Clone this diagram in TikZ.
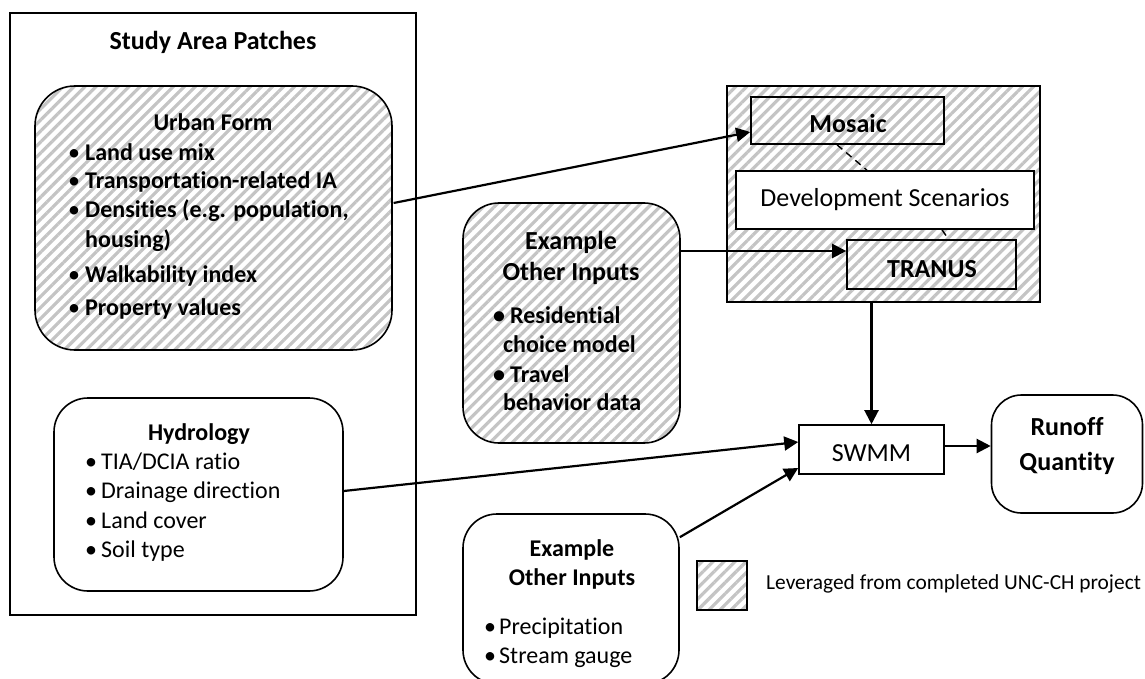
\documentclass[tikz,border=0pt]{standalone}
\usepackage{fontspec}
\setmainfont{Carlito}[Ligatures=NoCommon]
\usetikzlibrary{arrows.meta,patterns.meta}

\definecolor{hatchgray}{RGB}{196,196,196}
\newcommand\FsSmall{\fontsize{21.4}{25}\selectfont}
\newcommand\FsMid{\fontsize{24}{29}\selectfont}
\newcommand\FsBig{\fontsize{26}{31}\selectfont}

\tikzset{
  box/.style={draw, line width=1.6pt, rectangle, inner sep=0pt},
  hatch/.style={pattern={Lines[angle=45,distance=7.8pt,line width=3.2pt]}, pattern color=hatchgray},
  conn/.style={line width=2.2pt, -{Triangle[length=14pt,width=14pt]}},
  link/.style={line width=1.4pt, dash pattern=on 7pt off 5pt},
  t/.style={inner sep=0pt, anchor=base},
  tw/.style={inner sep=0pt, anchor=base west},
  dot/.style={tw, font=\FsMid\mdseries},
}

\begin{document}
\begin{tikzpicture}[x=1pt,y=-1pt]
\useasboundingbox (0,0) rectangle (1145,679);

% ---------- study area patches ----------
\node[box, minimum width=406pt, minimum height=602pt] (area) at (213,314) {};
\node[t, font=\FsBig\bfseries] (areaT) at (213,50) {Study Area Patches};

\node[box, hatch, rounded corners=40pt, minimum width=357pt, minimum height=264pt] (urban) at (213.5,218) {};
\node[t, font=\FsMid\bfseries] (urbanT) at (213,131) {Urban Form};
\begin{scope}[every node/.style={tw, font=\FsMid\bfseries}]
  \node[dot] (ub1) at (68,161) {•}; \node (ui1) at (85,161) {Land use mix};
  \node[dot] (ub2) at (68,189) {•}; \node (ui2) at (85,189) {Transportation-related IA};
  \node[dot] (ub3) at (68,218) {•}; \node (ui3) at (85,218) {Densities (e.g. population,};
  \node (ui3b) at (85,247) {housing)};
  \node[dot] (ub4) at (68,282) {•}; \node (ui4) at (85,282) {Walkability index};
  \node[dot] (ub5) at (68,315) {•}; \node (ui5) at (85,315) {Property values};
\end{scope}

\node[box, rounded corners=34pt, minimum width=289pt, minimum height=193pt] (hydro) at (198.5,494.5) {};
\node[t, font=\FsMid\bfseries] (hydroT) at (199,440) {Hydrology};
\begin{scope}[every node/.style={tw, font=\FsMid}]
  \node (hb1) at (85,469) {•}; \node (hi1) at (101,469) {TIA/DCIA ratio};
  \node (hb2) at (85,498) {•}; \node (hi2) at (101,498) {Drainage direction};
  \node (hb3) at (85,528) {•}; \node (hi3) at (101,528) {Land cover};
  \node (hb4) at (85,557) {•}; \node (hi4) at (101,557) {Soil type};
\end{scope}

% ---------- land use / transport inputs ----------
\node[box, hatch, rounded corners=36pt, minimum width=217pt, minimum height=240pt] (other) at (571.5,323) {};
\node[t, font=\FsBig\bfseries] (otherT1) at (571,249) {Example};
\node[t, font=\FsBig\bfseries] (otherT2) at (571,280) {Other Inputs};
\begin{scope}[every node/.style={tw, font=\FsMid\bfseries}]
  \node (ob1) at (493,323) {•}; \node (oi1) at (510,323) {Residential};
  \node (oi1b) at (503,352) {choice model};
  \node (ob2) at (493,382) {•}; \node (oi2) at (510,382) {Travel};
  \node (oi2b) at (503,410) {behavior data};
\end{scope}

% ---------- scenario models ----------
\node[box, hatch, minimum width=313pt, minimum height=216pt] (lev) at (883.5,194) {};
\node[box, minimum width=193pt, minimum height=47pt] (mosaic) at (847.5,120.5) {};
\node[t, font=\FsBig\bfseries] (mosaicT) at (848,133) {Mosaic};
\node[box, fill=white, minimum width=298pt, minimum height=58pt] (dev) at (885,200) {};
\node[t, font=\FsBig] (devT) at (885,207) {Development Scenarios};
\node[box, minimum width=169pt, minimum height=49pt] (tranus) at (931.5,264.5) {};
\node[t, font=\FsBig\bfseries] (tranusT) at (932,277) {TRANUS};

% ---------- hydrologic model ----------
\node[box, minimum width=145pt, minimum height=49pt] (swmm) at (871.5,449.5) {};
\node[t, font=\FsBig] (swmmT) at (871.5,461) {SWMM};
\node[box, rounded corners=30pt, minimum width=151pt, minimum height=118pt] (runoff) at (1067,454) {};
\node[t, font=\FsBig\bfseries] (runoffT1) at (1067,435) {Runoff};
\node[t, font=\FsBig\bfseries] (runoffT2) at (1067,470) {Quantity};

\node[box, rounded corners=34pt, minimum width=216pt, minimum height=170pt] (obs) at (571,599) {};
\node[t, font=\FsMid\bfseries] (obsT1) at (572,556) {Example};
\node[t, font=\FsMid\bfseries] (obsT2) at (572,585) {Other Inputs};
\begin{scope}[every node/.style={tw, font=\FsMid}]
  \node (sb1) at (484,634) {•}; \node (si1) at (499,634) {Precipitation};
  \node (sb2) at (484,663) {•}; \node (si2) at (499,663) {Stream gauge};
\end{scope}

% ---------- legend ----------
\node[box, hatch, minimum width=50pt, minimum height=49pt] (key) at (722,585.5) {};
\node[tw, font=\FsSmall] (keyT) at (766,589) {Leveraged from completed UNC-CH project};

% ---------- connectors ----------
\draw[conn] ([yshift=15pt]urban.east) -- ([yshift=-11.5pt]mosaic.west);
\draw[conn] ([yshift=72pt]other.east) -- ([yshift=13.5pt]tranus.west);
\draw[conn] (lev.south -| swmm.north) -- (swmm.north);
\draw[conn] ([yshift=3.5pt]hydro.east) -- ([yshift=7.5pt]swmm.west);
\draw[conn] ([yshift=-24pt]obs.north east) -- ([yshift=-18.5pt]swmm.west);
\draw[conn] ([yshift=3.5pt]swmm.east) -- ([yshift=8pt]runoff.west);
\draw[link] ([xshift=-10.5pt]mosaic.south) -- ([xshift=-18pt]dev.north);
\draw[link] ([xshift=57pt]dev.south) -- ([xshift=17pt]tranus.north);
\end{tikzpicture}
\end{document}
